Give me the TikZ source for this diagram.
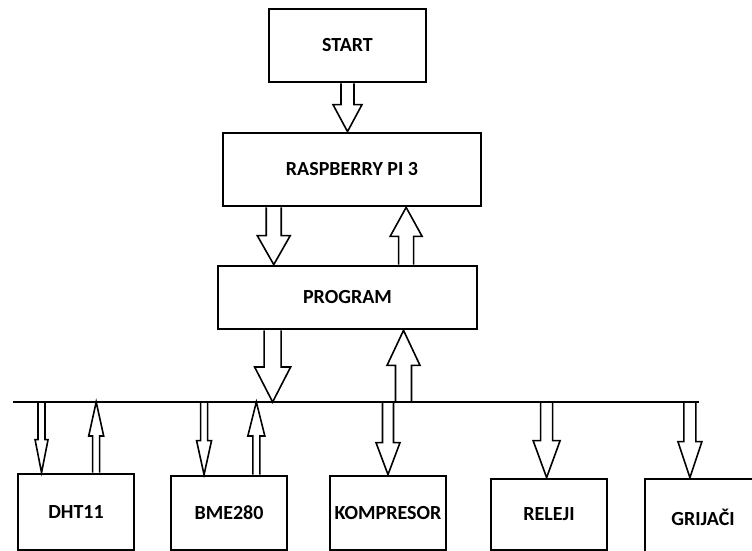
\documentclass[tikz,border=0pt]{standalone}
\usepackage{fontspec}
\setmainfont{Carlito}
\usetikzlibrary{positioning, calc}

\tikzset{
  block/.style={draw, line width=2.8pt, inner sep=0pt, font=\bfseries\fontsize{20}{24}\selectfont},
  hollow/.style={draw, line width=1.6pt, line join=miter},
  busline/.style={line width=2.2pt},
}

% tail, tip, shaft half width, head half width, head length
\newcommand{\hollowarrow}[5]{%
  \draw[hollow] let \p1=(#1), \p2=(#2), \p3=($(#2)!#5!(#1)$) in
    (\x1-#3,\y1) -- (\x1-#3,\y3) -- (\x1-#4,\y3) -- (\x1,\y2)
    -- (\x1+#4,\y3) -- (\x1+#3,\y3) -- (\x1+#3,\y1);
}

\begin{document}
\begin{tikzpicture}[x=1pt, y=-1pt]
  \useasboundingbox (0,0) rectangle (752,551);
  \clip (0,0) rectangle (752,551);

  % upper chain
  \node[block, minimum width=157pt, minimum height=73pt] (start) at (347.5,45.5) {START};
  \node[block, minimum width=258pt, minimum height=73pt] (rpi) at (352,169.5) {RASPBERRY PI 3};
  \node[block, minimum width=259pt, minimum height=63pt] (prog) at (347.5,297.5) {PROGRAM};

  % bus
  \coordinate (busL) at (13,402);
  \coordinate (busR) at (699,402);
  \draw[busline] (busL) -- (busR);

  % devices
  \node[block, minimum width=116pt, minimum height=76pt] (dht) at (76,512) {DHT11};
  \node[block, minimum width=116pt, minimum height=74pt] (bme) at (229,513) {BME280};
  \node[block, minimum width=116pt, minimum height=74pt] (komp) at (388,513) {KOMPRESOR};
  \node[block, minimum width=116pt, minimum height=71pt] (rel) at (549,514.5) {RELEJI};
  \node[block, minimum width=116pt, minimum height=76pt] (grij) at (703,517) {GRIJAČI};

  \coordinate (d1) at ($(rpi.south west)!0.2!(rpi.south east)$);
  \coordinate (u1) at ($(prog.north west)!0.724!(prog.north east)$);
  \coordinate (d2) at ($(prog.south west)!0.214!(prog.south east)$);
  \coordinate (u2) at ($(prog.south west)!0.714!(prog.south east)$);

  \coordinate (dhtin) at ($(dht.north west)!0.21!(dht.north east)$);
  \coordinate (dhtout) at ($(dht.north west)!0.67!(dht.north east)$);
  \coordinate (bmein) at ($(bme.north west)!0.29!(bme.north east)$);
  \coordinate (bmeout) at ($(bme.north west)!0.73!(bme.north east)$);
  \coordinate (kompin) at ($(komp.north west)!0.5!(komp.north east)$);
  \coordinate (relin) at ($(rel.north west)!0.48!(rel.north east)$);
  \coordinate (grijin) at ($(grij.north west)!0.39!(grij.north east)$);

  % arrows
  \hollowarrow{start.south}{start.south |- rpi.north}{6.5pt}{14.5pt}{27pt}
  \hollowarrow{d1}{d1 |- prog.north}{7.5pt}{16.5pt}{29pt}
  \hollowarrow{u1}{u1 |- rpi.south}{7.5pt}{16pt}{29pt}
  \hollowarrow{d2}{d2 |- busL}{8.5pt}{18pt}{35pt}
  \hollowarrow{u2 |- busL}{u2}{8pt}{16.5pt}{35pt}

  \hollowarrow{dhtin |- busL}{dhtin}{3.5pt}{6.5pt}{33pt}
  \hollowarrow{dhtout}{dhtout |- busL}{3.5pt}{7.5pt}{34pt}
  \hollowarrow{bmein |- busL}{bmein}{3.5pt}{7.5pt}{34pt}
  \hollowarrow{bmeout}{bmeout |- busL}{3.5pt}{8.5pt}{34pt}
  \hollowarrow{kompin |- busL}{kompin}{5.5pt}{12pt}{32pt}
  \hollowarrow{relin |- busL}{relin}{6pt}{13.5pt}{37pt}
  \hollowarrow{grijin |- busL}{grijin}{6pt}{12pt}{36pt}
\end{tikzpicture}
\end{document}
